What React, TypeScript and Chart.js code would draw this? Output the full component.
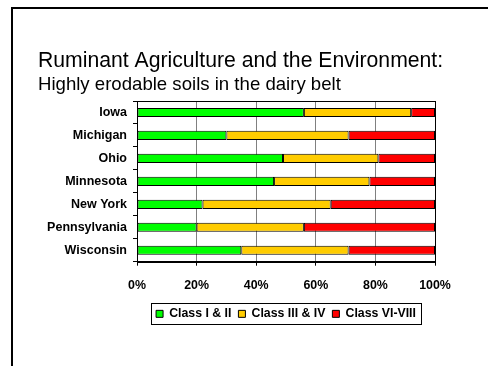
import React, { useEffect, useRef } from "react";
import { Chart, registerables } from "chart.js";

Chart.register(...registerables);

// Share of cropland by land capability class, per dairy state (%)
const states = ["Iowa", "Michigan", "Ohio", "Minnesota", "New York", "Pennsylvania", "Wisconsin"];
const classI_II = [56, 30, 49, 46, 22, 20, 35];
const classIII_IV = [36, 41, 32, 32, 43, 36, 36];
const classVI_VIII = [8, 29, 19, 22, 35, 44, 29];
const xTicks = [0, 20, 40, 60, 80, 100];

const titleText = "Ruminant Agriculture and the Environment:";
const subtitleText = "Highly erodable soils in the dairy belt";
const FONT = '"Liberation Sans", Arial, Helvetica, sans-serif';

// Slide frame, heading lines, plot border and legend outline
const decorations = {
  id: "decorations",
  beforeDraw(chart: any) {
    const ctx = chart.ctx;
    ctx.save();
    ctx.fillStyle = "#ffffff";
    ctx.fillRect(0, 0, chart.width, chart.height);
    ctx.fillStyle = "#000000";
    ctx.fillRect(11, 7, 2, chart.height);
    ctx.fillRect(11, 7, chart.width, 2);
    ctx.fillStyle = "#000000";
    ctx.textAlign = "left";
    ctx.textBaseline = "alphabetic";
    ctx.font = `21.2px ${FONT}`;
    ctx.fillText(titleText, 38, 67);
    ctx.font = `18.6px ${FONT}`;
    ctx.fillText(subtitleText, 38, 90);
    ctx.restore();
  },
  afterDraw(chart: any) {
    const ctx = chart.ctx;
    const a = chart.chartArea;
    ctx.save();
    ctx.strokeStyle = "#000000";
    ctx.lineWidth = 1;
    ctx.strokeRect(Math.round(a.left) + 0.5, Math.round(a.top) + 0.5, Math.round(a.right - a.left), Math.round(a.bottom - a.top));
    const boxes = chart.legend && chart.legend.legendHitBoxes;
    if (boxes && boxes.length) {
      let l = Infinity, r = -Infinity, t = Infinity, b = -Infinity;
      for (const h of boxes) {
        l = Math.min(l, h.left);
        r = Math.max(r, h.left + h.width);
        t = Math.min(t, h.top);
        b = Math.max(b, h.top + h.height);
      }
      const cy = (t + b) / 2;
      ctx.strokeRect(Math.round(l - 5) + 0.5, Math.round(cy - 10.5) + 0.5, Math.round(r - l + 10), 21);
    }
    ctx.restore();
  },
};

export default function App() {
  const canvasRef = useRef<HTMLCanvasElement | null>(null);

  useEffect(() => {
    if (!canvasRef.current) return;
    const bar = { borderColor: "#000000", borderWidth: 1, borderSkipped: false, barPercentage: 0.4, categoryPercentage: 1 };
    const chart = new Chart(canvasRef.current, {
      type: "bar",
      data: {
        labels: states,
        datasets: [
          { label: "Class I & II", data: classI_II, backgroundColor: "#00ff00", ...bar },
          { label: "Class III & IV", data: classIII_IV, backgroundColor: "#ffcc00", ...bar },
          { label: "Class VI-VIII", data: classVI_VIII, backgroundColor: "#ff0000", ...bar },
        ],
      } as any,
      options: {
        indexAxis: "y",
        responsive: false,
        animation: false,
        devicePixelRatio: 1,
        layout: { padding: { top: 101, left: 38, right: 53, bottom: 36 } },
        scales: {
          x: {
            stacked: true,
            min: 0,
            max: 100,
            afterBuildTicks(scale: any) {
              scale.ticks = xTicks.map((v) => ({ value: v }));
            },
            afterFit(scale: any) {
              scale.height = 39;
            },
            ticks: {
              padding: 12,
              color: "#000000",
              font: { family: FONT, size: 12.4, weight: "bold" },
              callback: (v: any) => `${v}%`,
            },
            grid: { color: "#808080", lineWidth: 1, tickLength: 4, tickColor: "#000000" },
            border: { color: "#000000" },
          },
          y: {
            stacked: true,
            afterFit(scale: any) {
              scale.width = 99;
            },
            ticks: {
              padding: 6,
              color: "#000000",
              font: { family: FONT, size: 12.5, weight: "bold" },
            },
            grid: { drawOnChartArea: false, offset: true, tickLength: 4, tickColor: "#000000" },
            border: { color: "#000000" },
          },
        },
        plugins: {
          legend: {
            position: "bottom",
            fullSize: false,
            labels: {
              boxWidth: 7,
              boxHeight: 7,
              padding: 7,
              color: "#000000",
              font: { family: FONT, size: 12.3, weight: "bold" },
            },
          },
          tooltip: { enabled: false },
          title: { display: false },
        },
      } as any,
      plugins: [decorations],
    });
    return () => chart.destroy();
  }, []);

  return (
    <div style={{ position: "absolute", left: 0, top: 0, width: 488, height: 366, background: "#fff" }}>
      <canvas ref={canvasRef} width={488} height={366} style={{ display: "block" }} />
    </div>
  );
}
